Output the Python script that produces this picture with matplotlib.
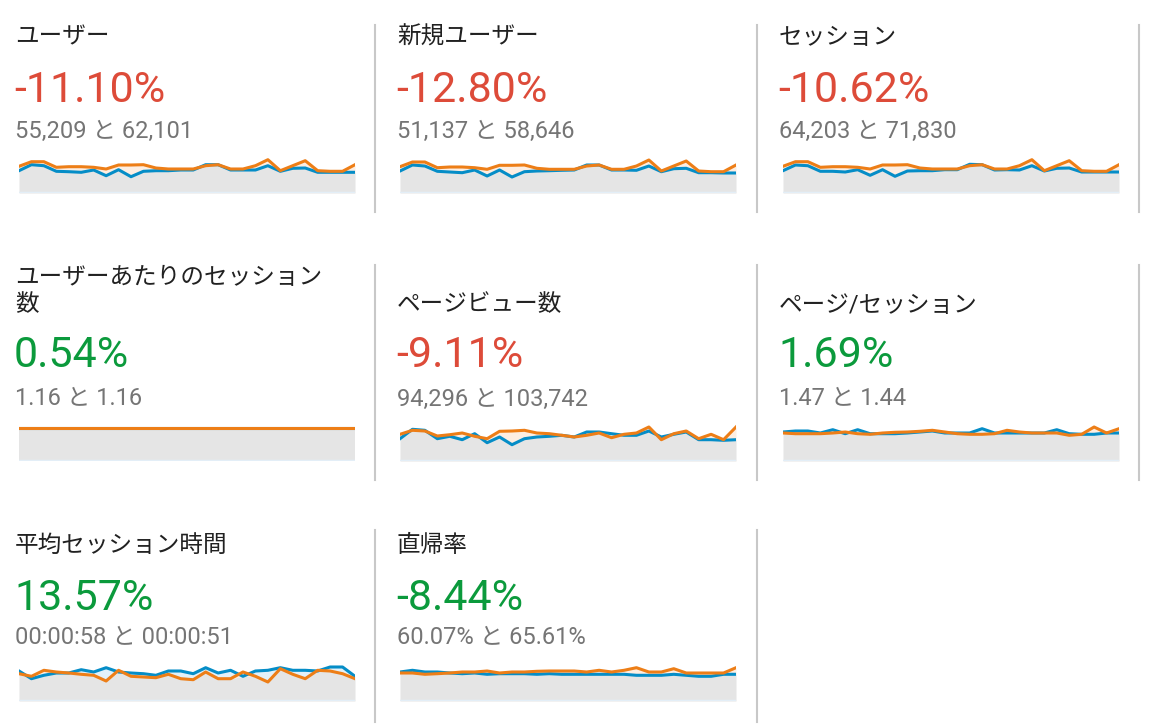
import matplotlib
matplotlib.use("Agg")
import matplotlib.pyplot as plt
import numpy as np

plt.rcParams['font.family'] = ['Roboto', 'Noto Sans CJK JP', 'DejaVu Sans']

titles = ["ユーザー", "新規ユーザー", "セッション", "ユーザーあたりのセッション\n数", "ページビュー数",
          "ページ/セッション", "平均セッション時間", "直帰率"]
changes = ["-11.10%", "-12.80%", "-10.62%", "0.54%", "-9.11%", "1.69%", "13.57%", "-8.44%"]
good = [False, False, False, True, False, True, True, True]
subs = ["55,209 と 62,101", "51,137 と 58,646", "64,203 と 71,830", "1.16 と 1.16",
        "94,296 と 103,742", "1.47 と 1.44", "00:00:58 と 00:00:51", "60.07% と 65.61%"]

# sparkline heights (pixels above baseline)
cur = [
 [22.3,28.3,27.3,21.7,21.3,20.7,23.0,17.3,23.3,16.3,21.7,22.3,22.3,23.0,23.0,28.3,28.3,23.0,23.0,23.0,27.3,21.7,24.7,25.0,20.7,20.7,20.7,20.7],
 [22.0,28.0,27.0,21.7,21.0,20.3,23.0,17.0,23.0,16.0,21.3,22.0,22.3,22.7,23.0,28.0,28.0,23.0,23.0,22.7,27.0,21.3,24.3,24.7,20.3,20.3,20.0,20.0],
 [22.3,28.0,27.3,21.7,21.7,21.0,23.3,17.7,23.3,16.7,22.0,22.3,22.3,23.3,23.3,28.7,28.3,23.0,23.3,23.0,27.3,22.0,24.7,25.0,21.0,21.0,21.0,21.0],
 [33.0]*28,
 [22.3,31.7,30.7,22.3,24.7,21.3,27.3,18.3,24.0,16.3,22.3,24.0,24.7,25.7,24.0,29.0,29.0,27.3,25.7,25.7,30.0,24.0,26.7,29.0,21.3,21.3,20.7,21.3],
 [29.0,30.0,30.0,28.0,31.3,27.3,31.3,27.3,27.3,27.3,28.0,29.0,30.0,28.0,28.0,28.0,32.3,28.0,28.0,28.0,28.0,28.0,31.3,27.3,26.7,26.7,28.0,28.0],
 [30.0,22.3,25.7,28.0,28.0,31.3,29.0,33.3,29.0,28.0,27.3,25.7,30.0,30.0,27.3,33.3,28.0,30.7,24.7,30.0,30.7,33.3,30.7,30.7,30.0,34.0,34.0,24.7],
 [29.0,30.7,29.0,29.0,28.0,27.3,28.0,26.7,27.3,27.3,27.3,26.7,27.3,26.7,26.7,26.7,26.7,26.7,26.7,25.7,25.7,25.7,26.7,25.7,24.7,24.7,26.7,26.7],
]
prev = [
 [26.7,31.3,31.3,25.7,26.3,26.3,25.7,24.0,28.0,28.0,28.3,25.0,24.0,24.0,24.0,27.3,28.3,24.0,24.0,27.3,33.3,22.3,27.3,32.3,22.3,21.7,21.7,28.3],
 [26.3,31.0,31.0,25.3,26.0,26.0,25.3,23.7,27.7,27.7,28.0,24.7,23.7,23.7,23.7,27.0,28.0,23.7,23.7,27.0,33.0,22.0,27.0,32.0,22.0,21.3,21.3,28.0],
 [26.7,31.3,31.3,25.7,26.3,26.3,25.7,24.0,28.0,28.0,28.3,25.0,24.0,24.0,24.0,27.3,28.3,24.0,24.0,27.3,33.3,22.3,27.3,32.3,22.3,21.7,21.7,28.3],
 [33.3]*28,
 [26.7,30.7,30.0,25.0,26.3,28.0,24.7,22.3,29.7,30.0,30.7,28.0,27.3,25.7,24.0,25.7,28.0,23.3,26.7,28.0,34.0,21.3,27.3,30.0,22.3,26.7,21.3,34.0],
 [28.0,27.3,27.3,27.3,28.0,29.0,27.3,26.7,28.0,28.7,29.0,29.7,30.7,29.0,27.3,26.7,26.7,27.3,30.7,29.0,28.0,28.0,28.0,25.7,26.7,34.0,28.0,32.3],
 [27.3,24.7,30.7,29.0,28.0,26.7,25.7,20.0,30.7,24.7,24.0,23.3,26.7,22.3,21.3,29.0,22.3,22.3,29.0,24.7,19.0,32.3,26.7,22.3,30.7,30.0,27.3,22.3],
 [28.0,28.0,26.7,27.3,28.0,29.0,29.0,30.0,28.0,29.0,29.0,29.7,30.0,30.0,30.0,29.0,30.7,29.0,30.7,33.3,29.0,29.0,32.3,28.0,28.0,28.0,28.0,33.3],
]

W, H = 1164, 728
fig = plt.figure(figsize=(W/100, H/100), dpi=100)
RED, GREEN, GRAY = '#dd4b39', '#0b9a3c', '#757575'
BLUE, ORANGE = '#058dc7', '#ed7e17'

cols = [15, 397, 779]
rows = [dict(title=37, pct=90, sub=131, base=193, div=(25, 212)),
        dict(title=305, pct=355, sub=399, base=461, div=(265, 480)),
        dict(title=545, pct=598, sub=638, base=701, div=(530, 722))]
spark_x = [19, 400, 783]
div_x = [375, 757, 1139]
TS, PS, SS = 17, 31, 17

def T(x, y, s, **kw):
    fig.text(x/W, 1-y/H, s, **kw)

for i in range(8):
    r, c = divmod(i, 3)
    R = rows[r]
    x = cols[c]
    if i == 3:
        T(x, 277, "ユーザーあたりのセッション", fontsize=TS, color='#212121', va='center')
        T(x, 305, "数", fontsize=TS, color='#212121', va='center')
    else:
        T(x, R['title'], titles[i], fontsize=TS, color='#212121', va='center')
    T(x-1, R['pct'], changes[i], fontsize=PS, color=GREEN if good[i] else RED, va='center')
    T(x, R['sub'], subs[i], fontsize=SS, color=GRAY, va='center')
    ax = fig.add_axes([spark_x[c]/W, (H-R['base'])/H, 336/W, 45/H])
    xs = np.arange(28)
    b = np.array(cur[i]); p = np.array(prev[i])
    lo = np.minimum(b, p)
    ax.fill_between(xs, 0, lo, color='#e5e5e5', lw=0)
    ax.fill_between(xs, lo, b, color='#e3f1f9', lw=0)
    ax.fill_between(xs, lo, p, color='#fdeee2', lw=0)
    ax.plot(xs, b, color=BLUE, lw=2.2)
    ax.plot(xs, p, color=ORANGE, lw=2.2)
    ax.axhline(0, color='#e3eef7', lw=2.5)
    ax.set_xlim(0, 27); ax.set_ylim(0, 45)
    ax.axis('off')

for r, R in enumerate(rows):
    for c in range(3):
        if r == 2 and c == 2:
            continue
        y0, y1 = R['div']
        fig.add_artist(plt.Line2D([div_x[c]/W]*2, [1-y0/H, 1-y1/H], color='#c8c8c8', lw=1.5))

fig.savefig('out.png', dpi=100, facecolor='white')
